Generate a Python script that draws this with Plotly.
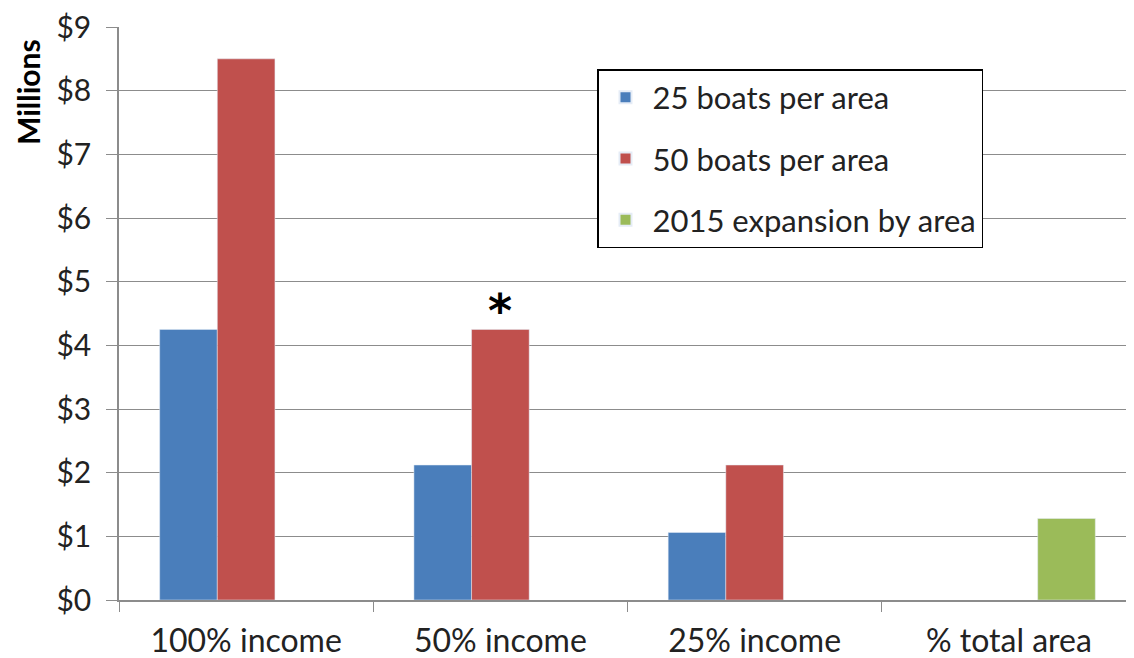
import plotly.graph_objects as go

categories = ["100% income", "50% income", "25% income", "% total area"]
boats25 = [4.25, 2.12, 1.06, None]
boats50 = [8.5, 4.25, 2.12, None]
expansion = [None, None, None, 1.28]
y_ticks = [0, 1, 2, 3, 4, 5, 6, 7, 8, 9]
y_ticktext = ["$" + str(v) for v in y_ticks]

FONT = "Lato, 'Open Sans', sans-serif"
L, R, T, B = 111, 6, 19, 66
PW = 1134 - L - R

fig = go.Figure()
fig.add_trace(go.Bar(x=categories, y=boats25, name="25 boats per area",
                     marker_color="#4A7EBB", legendgroup="a"))
fig.add_trace(go.Bar(x=categories, y=boats50, name="50 boats per area",
                     marker_color="#C0504D", legendgroup="b"))
fig.add_trace(go.Bar(x=categories, y=expansion, name="2015 expansion by area",
                     marker_color="#9BBB59", legendgroup="c"))

fig.add_annotation(x="50% income", y=boats50[1], text="<b>*</b>", showarrow=False,
                   yanchor="bottom", yshift=-11, font=dict(size=46, color="black", family="DejaVu Sans"))

fig.add_annotation(xref="paper", yref="paper", x=(20 - L) / PW, y=1.0,
                   xanchor="center", yanchor="top", yshift=-10, textangle=-90,
                   text="<b>Millions</b>", showarrow=False,
                   font=dict(size=30, color="black", family=FONT))

fig.update_layout(
    width=1134, height=658,
    margin=dict(l=L, r=R, t=T, b=B, autoexpand=False),
    paper_bgcolor="white", plot_bgcolor="white",
    barmode="group", bargap=0.32, bargroupgap=0,
    font=dict(family=FONT, size=30, color="#222222"),
    showlegend=True,
    legend=dict(x=(589 - L) / PW, y=1 - (61 - T) / (658 - T - B), xanchor="left", yanchor="top",
                bordercolor="black", borderwidth=1.5, bgcolor="white",
                font=dict(size=31, color="#222222"), tracegroupgap=18,
                itemsizing="constant", itemwidth=44),
    xaxis=dict(showline=True, linecolor="#8c8c8c", linewidth=1.5, automargin=False,
               ticks="outside", tickson="boundaries", ticklen=10, tickcolor="#8c8c8c",
               showgrid=False, tickfont=dict(size=32), ticklabelstandoff=12),
    yaxis=dict(range=[0, 9], tickvals=y_ticks, ticktext=y_ticktext, automargin=False,
               showline=True, linecolor="#8c8c8c", linewidth=1.5,
               ticks="outside", ticklen=11, tickcolor="#8c8c8c",
               showgrid=True, gridcolor="#8c8c8c", gridwidth=1.2,
               zeroline=False, tickfont=dict(size=30), ticklabelstandoff=9,
               ticklabeloverflow="allow"),
)

fig.write_html("out.html")
